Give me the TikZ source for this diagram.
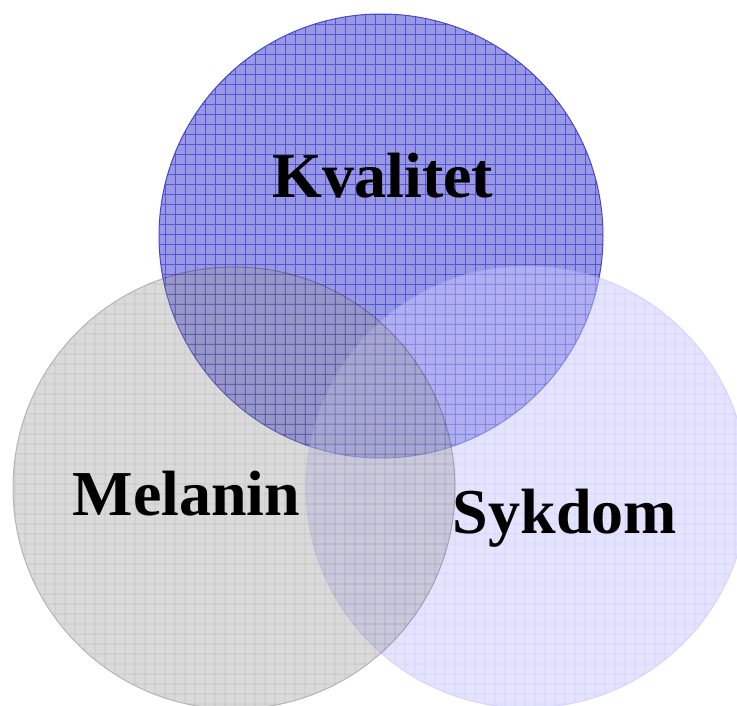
\documentclass[tikz,border=0pt]{standalone}
\usepackage{fontspec}
\setmainfont{Liberation Serif}
\definecolor{topfill}{RGB}{152,152,228}
\definecolor{topgrid}{RGB}{85,85,212}
\definecolor{topedge}{RGB}{70,70,205}
\definecolor{leftfill}{RGB}{150,150,150}
\definecolor{leftgrid}{RGB}{80,80,80}
\definecolor{leftedge}{RGB}{40,40,40}
\definecolor{rightfill}{RGB}{201,201,255}
\definecolor{rightgrid}{RGB}{165,165,245}
\definecolor{rightedge}{RGB}{170,170,250}
\tikzset{
  lbl/.style={font=\fontsize{64}{70}\selectfont\bfseries, anchor=base, inner sep=0pt},
  gridline/.style={line width=0.9pt},
}
\begin{document}
\begin{tikzpicture}[x=1pt,y=-1pt]
\useasboundingbox (0,0) rectangle (737,706);
% top circle
\begin{scope}
  \begin{scope}
    \clip (381,236) circle (222);
    \fill[topfill] (381,236) circle (222);
    \foreach \i in {155,165,...,615} \draw[topgrid,gridline] (\i,4) -- (\i,470);
    \foreach \j in {4,14,...,470} \draw[topgrid,gridline] (150,\j) -- (615,\j);
  \end{scope}
  \draw[topedge,line width=1pt] (381,236) circle (222);
\end{scope}
% right circle
\begin{scope}[transparency group, opacity=0.5]
  \begin{scope}
    \clip (527,487) circle (221);
    \fill[rightfill] (527,487) circle (221);
    \foreach \i in {295,305,...,765} \draw[rightgrid,gridline] (\i,254) -- (\i,720);
    \foreach \j in {254,264,...,720} \draw[rightgrid,gridline] (295,\j) -- (765,\j);
  \end{scope}
  \draw[rightedge,line width=1pt] (527,487) circle (221);
\end{scope}
% left circle
\begin{scope}[transparency group, opacity=0.35]
  \begin{scope}
    \clip (234,488) circle (221);
    \fill[leftfill] (234,488) circle (221);
    \foreach \i in {5,15,...,465} \draw[leftgrid,gridline] (\i,254) -- (\i,720);
    \foreach \j in {254,264,...,720} \draw[leftgrid,gridline] (5,\j) -- (465,\j);
  \end{scope}
  \draw[leftedge,line width=1pt] (234,488) circle (221);
\end{scope}
\node[lbl] (kval) at (383,198) {Kvalitet};
\node[lbl] (mel) at (186.5,515) {Melanin};
\node[lbl] (syk) at (565,533) {Sykdom};
\end{tikzpicture}
\end{document}
